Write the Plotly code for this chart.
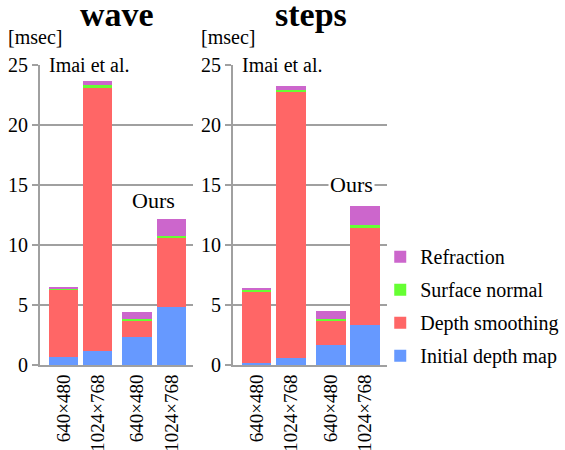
import plotly.graph_objects as go
from plotly.subplots import make_subplots

# Timing breakdown [msec] per resolution, two methods per scene
resolutions = ["640×480", "1024×768", "640×480", "1024×768"]
methods = ["Imai et al.", "Ours"]
stages = ["Initial depth map", "Depth smoothing", "Surface normal", "Refraction"]
colors = ["#6699FF", "#FF6666", "#66FF33", "#CC66CC"]

wave_initial = [0.64, 1.17, 2.33, 4.83]
wave_smoothing = [5.66, 21.93, 1.36, 5.77]
wave_normal = [0.09, 0.20, 0.11, 0.17]
wave_refraction = [0.11, 0.37, 0.62, 1.38]

steps_initial = [0.20, 0.60, 1.67, 3.33]
steps_smoothing = [5.88, 22.23, 2.08, 8.11]
steps_normal = [0.17, 0.09, 0.08, 0.23]
steps_refraction = [0.19, 0.33, 0.67, 1.58]

scenes = {
    "wave": [wave_initial, wave_smoothing, wave_normal, wave_refraction],
    "steps": [steps_initial, steps_smoothing, steps_normal, steps_refraction],
}

# bar centres: two bars per method, with a wider gap between the method groups
group_gap = 0.15
xpos = [i + (i // 2) * group_gap for i in range(len(resolutions))]

FONT = "Liberation Serif"
GRID = "#a0a0a0"

fig = make_subplots(rows=1, cols=2)

for col, (scene, series) in enumerate(scenes.items(), start=1):
    for k, (name, vals, color) in enumerate(zip(stages, series, colors)):
        fig.add_trace(
            go.Bar(
                x=xpos, y=vals, name=name, marker_color=color,
                marker_line_width=0, width=0.86,
                legendgroup=name, showlegend=(col == 1),
                # top segment of the stack listed first in the legend
                legendrank=1000 + (len(stages) - k),
            ),
            row=1, col=col,
        )

fig.update_layout(
    barmode="stack",
    width=565, height=450,
    margin=dict(l=0, r=0, t=0, b=0, pad=0, autoexpand=False),
    paper_bgcolor="white", plot_bgcolor="white",
    font=dict(family=FONT, size=19, color="black"),
    legend=dict(
        x=0.673, y=0.473, xanchor="left", yanchor="top",
        traceorder="grouped", tracegroupgap=4,
        font=dict(family=FONT, size=20), itemwidth=30,
        bgcolor="rgba(0,0,0,0)",
    ),
    xaxis=dict(domain=[0.0708, 0.3416]),
    xaxis2=dict(domain=[0.4124, 0.685]),
)

for ax in ("xaxis", "xaxis2"):
    fig.layout[ax].update(
        range=[-0.68, 3.78], tickvals=xpos, ticktext=resolutions,
        tickangle=-90, showgrid=False, zeroline=False, automargin=False,
        showline=True, linecolor=GRID, linewidth=2, ticks="",
        tickfont=dict(family=FONT, size=19),
    )
for ax in ("yaxis", "yaxis2"):
    fig.layout[ax].update(
        domain=[0.1889, 0.8556], range=[0, 25], dtick=5, automargin=False,
        showgrid=True, gridcolor=GRID, gridwidth=2,
        zeroline=False, showline=True, linecolor=GRID, linewidth=2,
        ticks="outside", ticklen=6, tickwidth=2, tickcolor=GRID,
        tickfont=dict(family=FONT, size=20),
    )

# panel titles, unit labels and method labels
for scene, xref, yref, title_x, ours_x, ours_y in (
    ("wave", "x", "y", 117, 2.63, 13.7),
    ("steps", "x2", "y2", 311, 2.75, 15),
):
    fig.add_annotation(
        text="<b>%s</b>" % scene, xref="paper", yref="paper",
        x=title_x / 565, y=1 - 15 / 450, xanchor="center", yanchor="middle",
        showarrow=False, font=dict(family=FONT, size=34),
    )
    fig.add_annotation(
        text="[msec]", xref="%s domain" % xref, yref="paper",
        x=-0.22, y=1 - 37 / 450, xanchor="left", yanchor="middle",
        showarrow=False, font=dict(family=FONT, size=20),
    )
    fig.add_annotation(
        text=methods[0], xref=xref, yref=yref, x=0.75, y=25,
        xanchor="center", yanchor="middle", showarrow=False,
        bgcolor="white", font=dict(family=FONT, size=20),
    )
    fig.add_annotation(
        text=methods[1], xref=xref, yref=yref, x=ours_x, y=ours_y,
        xanchor="center", yanchor="middle", showarrow=False,
        bgcolor="white", font=dict(family=FONT, size=22),
    )

fig.write_html("out.html")
